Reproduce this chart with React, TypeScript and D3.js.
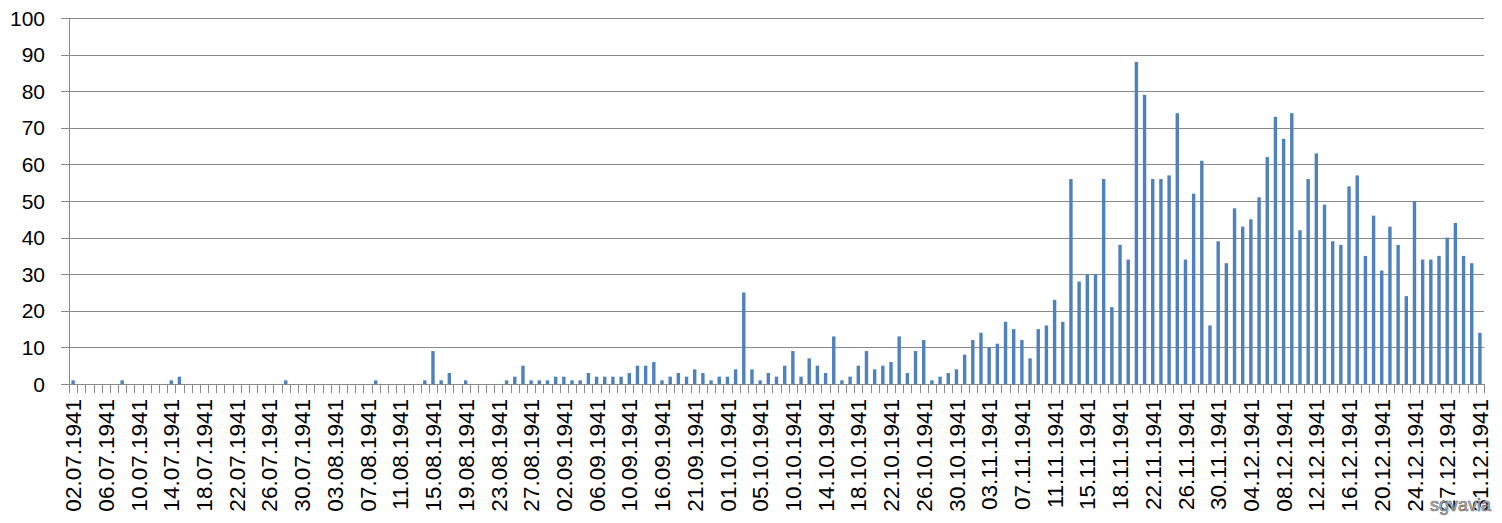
import * as d3 from "d3";

// daily values, one per category (173 categories)
const values = [
  1, 0, 0, 0, 0, 0, 1, 0, 0, 0, 0, 0, 1, 2, 0, 0, 0, 0, 0, 0,
  0, 0, 0, 0, 0, 0, 1, 0, 0, 0, 0, 0, 0, 0, 0, 0, 0, 1, 0, 0,
  0, 0, 0, 1, 9, 1, 3, 0, 1, 0, 0, 0, 0, 1, 2, 5, 1, 1, 1, 2,
  2, 1, 1, 3, 2, 2, 2, 2, 3, 5, 5, 6, 1, 2, 3, 2, 4, 3, 1, 2,
  2, 4, 25, 4, 1, 3, 2, 5, 9, 2, 7, 5, 3, 13, 1, 2, 5, 9, 4, 5,
  6, 13, 3, 9, 12, 1, 2, 3, 4, 8, 12, 14, 10, 11, 17, 15, 12, 7, 15, 16,
  23, 17, 56, 28, 30, 30, 56, 21, 38, 34, 88, 79, 56, 56, 57, 74, 34, 52, 61, 16,
  39, 33, 48, 43, 45, 51, 62, 73, 67, 74, 42, 56, 63, 49, 39, 38, 54, 57, 35, 46,
  31, 43, 38, 24, 50, 34, 34, 35, 40, 44, 35, 33, 14,
];

// every 4th category carries a label
const tickLabels = [
  "02.07.1941", "06.07.1941", "10.07.1941", "14.07.1941", "18.07.1941",
  "22.07.1941", "26.07.1941", "30.07.1941", "03.08.1941", "07.08.1941",
  "11.08.1941", "15.08.1941", "19.08.1941", "23.08.1941", "27.08.1941",
  "02.09.1941", "06.09.1941", "10.09.1941", "16.09.1941", "21.09.1941",
  "01.10.1941", "05.10.1941", "10.10.1941", "14.10.1941", "18.10.1941",
  "22.10.1941", "26.10.1941", "30.10.1941", "03.11.1941", "07.11.1941",
  "11.11.1941", "15.11.1941", "18.11.1941", "22.11.1941", "26.11.1941",
  "30.11.1941", "04.12.1941", "08.12.1941", "12.12.1941", "16.12.1941",
  "20.12.1941", "24.12.1941", "27.12.1941", "31.12.1941",
];
const labelEvery = 4;
const yMax = 100;

export default function App() {
  const W = 1502;
  const H = 523;
  const margin = { top: 18, right: 18, bottom: 139, left: 69 };
  const font = "'Liberation Sans', Arial, sans-serif";
  const gridColor = "#898989";

  const x = d3
    .scaleBand<number>()
    .domain(d3.range(values.length))
    .range([margin.left, W - margin.right])
    .padding(0);
  const y = d3
    .scaleLinear()
    .domain([0, yMax])
    .range([H - margin.bottom, margin.top]);

  const step = x.step();
  const barW = step / 2.4;
  const y0 = y(0);
  const yTicks = y.ticks(10);

  return (
    <div style={{ position: "fixed", left: 0, top: 0 }}>
      <svg width={W} height={H} style={{ display: "block", background: "#fff" }}>
        {/* gridlines + y labels */}
        {yTicks.map((t) => (
          <g key={t}>
            <line
              x1={margin.left - 8}
              x2={W - margin.right}
              y1={Math.round(y(t)) + 0.5}
              y2={Math.round(y(t)) + 0.5}
              stroke={gridColor}
              strokeWidth={1}
            />
            <text
              x={45}
              y={y(t)}
              dy="0.36em"
              textAnchor="end"
              fontFamily={font}
              fontSize={21}
              fill="#000"
            >
              {t}
            </text>
          </g>
        ))}
        {/* y axis line */}
        <line
          x1={margin.left + 0.5}
          x2={margin.left + 0.5}
          y1={margin.top}
          y2={y0}
          stroke={gridColor}
        />
        {/* bars */}
        {values.map((v, i) =>
          v > 0 ? (
            <rect
              key={i}
              x={(x(i) as number) + (step - barW) / 2}
              y={y(v)}
              width={barW}
              height={y0 - y(v)}
              fill="#4F81BD"
            />
          ) : null
        )}
        {/* x ticks between categories */}
        {d3.range(values.length + 1).map((i) => {
          const xp = Math.round(margin.left + i * step) + 0.5;
          return (
            <line key={i} x1={xp} x2={xp} y1={y0} y2={y0 + 9} stroke={gridColor} />
          );
        })}
        {/* x labels */}
        {tickLabels.map((lab, k) => {
          const i = k * labelEvery;
          const cx = (x(i) as number) + step / 2;
          return (
            <text
              key={lab + k}
              transform={`translate(${cx},${y0 + 15}) rotate(-90)`}
              dy="0.36em"
              textAnchor="end"
              fontFamily={font}
              fontSize={22.5}
              fill="#000"
            >
              {lab}
            </text>
          );
        })}
        {/* watermark */}
        <text
          x={1491}
          y={511}
          textAnchor="end"
          fontFamily={font}
          fontSize={18}
          fill="#c8c8c8"
          stroke="#6a6a6a"
          strokeWidth={0.7}
        >
          sgvavia
        </text>
      </svg>
    </div>
  );
}
